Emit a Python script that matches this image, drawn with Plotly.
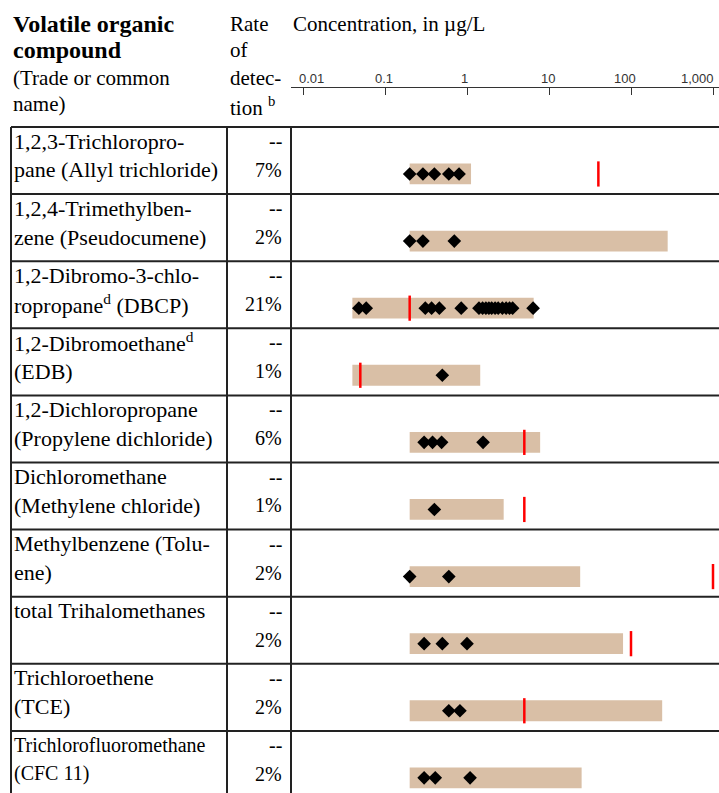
import math
import plotly.graph_objects as go

# --- data ---
compound_line1 = ["1,2,3-Trichloropro-", "1,2,4-Trimethylben-", "1,2-Dibromo-3-chlo-",
                  "1,2-Dibromoethane<sup>d</sup>", "1,2-Dichloropropane", "Dichloromethane",
                  "Methylbenzene (Tolu-", "total Trihalomethanes", "Trichloroethene",
                  "Trichlorofluoromethane"]
compound_line2 = ["pane (Allyl trichloride)", "zene (Pseudocumene)", "ropropane<sup>d</sup> (DBCP)",
                  "(EDB)", "(Propylene dichloride)", "(Methylene chloride)", "ene)", "",
                  "(TCE)", "(CFC 11)"]
detection_rate = ["7%", "2%", "21%", "1%", "6%", "1%", "2%", "2%", "2%", "2%"]

range_low = [0.2, 0.2, 0.04, 0.04, 0.2, 0.2, 0.2, 0.2, 0.2, 0.2]
range_high = [1.12, 280, 6.5, 1.45, 7.8, 2.8, 24, 80, 240, 25]
benchmark = [40, None, 0.2, 0.05, 5, 5, 1000, 100, 5, None]
detections = [
    [0.2, 0.29, 0.4, 0.6, 0.8],
    [0.2, 0.29, 0.7],
    [0.048, 0.059, 0.31, 0.37, 0.46, 0.85, 1.4, 1.55, 1.7, 1.85, 2.0, 2.2, 2.4,
     2.7, 3.0, 3.3, 3.6, 6.4],
    [0.5],
    [0.3, 0.38, 0.49, 1.57],
    [0.4],
    [0.2, 0.6],
    [0.3, 0.5, 1.0],
    [0.6, 0.82],
    [0.3, 0.41, 1.09],
]
tick_vals = [0.01, 0.1, 1, 10, 100, 1000]
tick_text = ["0.01", "0.1", "1", "10", "100", "1,000"]

W, H = 719, 793
SERIF = "Liberation Serif"
SANS = "Liberation Sans"
n = len(compound_line1)

# layout geometry (pixels)
row_top, row_h = 127, 67.1
axis_y = 88
col_left, col_rate, col_plot = 11, 227, 291
dec0_px, dec_px = 303, 82  # pixel of 0.01 and width of a decade

bar_off = 0.70  # bar centre within row (fraction of row)

fig = go.Figure()

fig.add_trace(go.Bar(
    orientation="h",
    y=[i + bar_off for i in range(n)],
    base=range_low,
    x=[h - l for l, h in zip(range_low, range_high)],
    width=0.31,
    marker=dict(color="#D9BFA6", line=dict(width=0)),
    showlegend=False, hoverinfo="skip"))

bx = [b for b in benchmark if b is not None]
by = [i + bar_off for i, b in enumerate(benchmark) if b is not None]
fig.add_trace(go.Scatter(
    x=bx, y=by, mode="markers", cliponaxis=False,
    marker=dict(symbol="line-ns", size=18, line=dict(color="#FF0000", width=2.5)),
    showlegend=False, hoverinfo="skip"))

dx, dy = [], []
for i, vals in enumerate(detections):
    dx += vals
    dy += [i + bar_off] * len(vals)
fig.add_trace(go.Scatter(
    x=dx, y=dy, mode="markers", cliponaxis=False,
    marker=dict(symbol="diamond", size=10.5, color="black", line=dict(width=0)),
    showlegend=False, hoverinfo="skip"))

# table grid
line_style = dict(color="#222222", width=2)
for i in range(n + 1):
    fig.add_shape(type="line", xref="paper", yref="y", x0=col_left / W, x1=1,
                  y0=i, y1=i, line=line_style)
for cx in (col_left, col_rate, col_plot):
    fig.add_shape(type="line", xref="paper", yref="y", x0=cx / W, x1=cx / W,
                  y0=0, y1=n + 0.2, line=line_style)

# row text
for i in range(n):
    fs = 20 if i == n - 1 else 22
    fig.add_annotation(text=compound_line1[i], xref="paper", yref="y", x=12 / W,
                       y=i + 0.21, xanchor="left", yanchor="middle", showarrow=False,
                       font=dict(family=SERIF, size=fs, color="black"))
    if compound_line2[i]:
        fig.add_annotation(text=compound_line2[i], xref="paper", yref="y", x=12 / W,
                           y=i + 0.64, xanchor="left", yanchor="middle", showarrow=False,
                           font=dict(family=SERIF, size=fs, color="black"))
    fig.add_annotation(text="--", xref="paper", yref="y", x=284 / W, y=i + 0.21,
                       xanchor="right", yanchor="middle", showarrow=False,
                       font=dict(family=SERIF, size=20, color="black"))
    fig.add_annotation(text=detection_rate[i], xref="paper", yref="y", x=284 / W,
                       y=i + 0.64, xanchor="right", yanchor="middle", showarrow=False,
                       font=dict(family=SERIF, size=20, color="black"))

# header
def head(text, x, y, size=21, bold=False):
    fig.add_annotation(text="<b>%s</b>" % text if bold else text, xref="paper", yref="paper",
                       x=x / W, y=1 - y / H, xanchor="left", yanchor="middle",
                       showarrow=False, font=dict(family=SERIF, size=size, color="black"))

head("Volatile organic", 11, 24, 24, True)
head("compound", 11, 50, 24, True)
head("(Trade or common", 11, 78)
head("name)", 11, 104)
head("Rate", 228, 24)
head("of", 228, 50)
head("detec-", 228, 78)
head("tion <sup>b</sup>", 228, 106)
head("Concentration, in µg/L", 291, 24)

# tick labels (ends nudged inward as in the original)
shifts = [8, -1, -3, -1, -6, -16]
for v, t, s in zip(tick_vals, tick_text, shifts):
    fig.add_annotation(text=t, xref="x", yref="paper", x=math.log10(v), y=1 - 78 / H,
                       xshift=s, xanchor="center", yanchor="middle", showarrow=False,
                       font=dict(family=SANS, size=13, color="#333333"))

x_lo = -2 - (dec0_px - col_plot) / dec_px
x_hi = -2 + (W - dec0_px) / dec_px
fig.update_layout(
    width=W, height=H, margin=dict(l=0, r=0, t=0, b=0),
    plot_bgcolor="white", paper_bgcolor="white", barmode="overlay",
    xaxis=dict(type="log", domain=[col_plot / W, 1], range=[x_lo, x_hi], side="top",
               showline=True, linecolor="#333333", linewidth=1, ticks="inside",
               ticklen=7, tickcolor="#333333", tickvals=tick_vals, showticklabels=False,
               showgrid=False, zeroline=False),
    yaxis=dict(domain=[0, 1 - axis_y / H],
               range=[(H - row_top) / row_h, (axis_y - row_top) / row_h],
               visible=False, showgrid=False, zeroline=False),
)

fig.write_html("out.html", config={"displayModeBar": False},
               post_script="document.body.style.margin='0';")
